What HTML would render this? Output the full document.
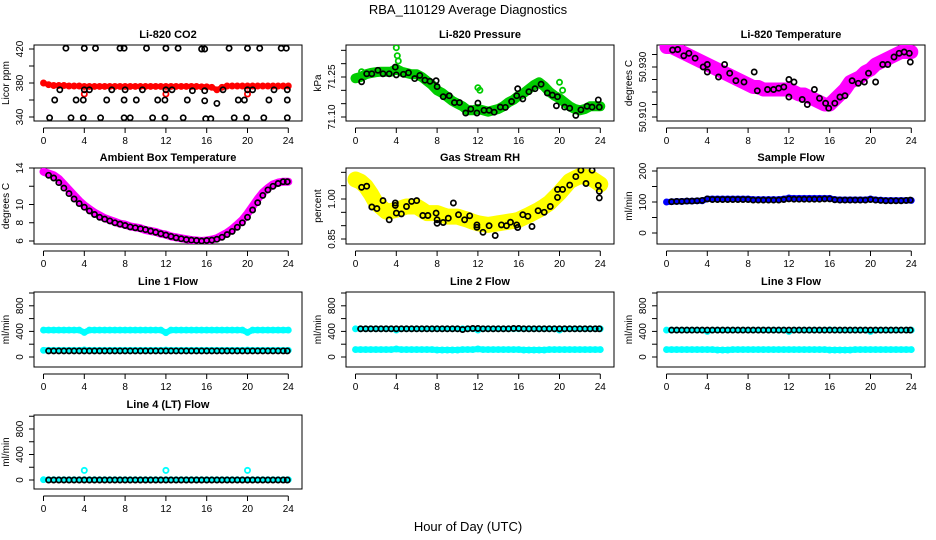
<!DOCTYPE html>
<html><head><meta charset="utf-8">
<style>
html,body{margin:0;padding:0;background:#fff;}
svg{display:block;font-family:"Liberation Sans",Arial,sans-serif;}
</style></head>
<body>
<svg id="chart" width="936" height="540" viewBox="0 0 936 540">
<text x="468" y="14" text-anchor="middle" font-size="13">RBA_110129  Average Diagnostics</text>
<text x="468" y="531" text-anchor="middle" font-size="13">Hour of Day (UTC)</text>
</svg>
<script>
const hours = [0,0.5,1,1.5,2,2.5,3,3.5,4,4.5,5,5.5,6,6.5,7,7.5,8,8.5,9,9.5,10,10.5,11,11.5,12,12.5,13,13.5,14,14.5,15,15.5,16,16.5,17,17.5,18,18.5,19,19.5,20,20.5,21,21.5,22,22.5,23,23.5,24];
const halfHours = [0.5,1,1.5,2,2.5,3,3.5,4,4.5,5,5.5,6,6.5,7,7.5,8,8.5,9,9.5,10,10.5,11,11.5,12,12.5,13,13.5,14,14.5,15,15.5,16,16.5,17,17.5,18,18.5,19,19.5,20,20.5,21,21.5,22,22.5,23,23.5,23.9];
const xTicks = [0,4,8,12,16,20,24];

// CO2
const co2Red = [380,378,377,377,377,376.5,376.5,376.5,376,376,376,376,376,376,376,376,376,376,376,376,376,376,376,376,376,376,376,376,376,376,376,375.5,375.5,375,372,375,376.5,376.5,376.5,376.5,376.5,376.5,376.5,376.5,376.5,376.5,376.5,376.5,376.5];
const co2RedOutHours = [4,12,20];
const co2RedOut = [367,367,367];
const co2BlackHours = [2.2,4,5.1,7.5,7.9,10.1,12,13.2,15.5,15.8,18.2,20,21.2,23.3,23.8, 1.6,4,4.5,6.7,8,9.7,12,12.6,14.6,15.8,17.6,20,20.5,22.6,23.9, 1.1,3.2,3.9,6.2,7.9,9.1,11.2,11.9,14.1,15.8,17,19.1,19.7,22.1,23.9, 0.6,2.7,3.9,5.6,7.9,8.5,10.7,11.9,13.7,15.9,16.4,18.7,19.9,21.6,23.9];
const co2Black = [421,421,421,421,421,421,421,421,420,420,421,421,421,421,421, 372,372,372,372,372,372,372,372,371,371,372,372,372,372,372, 360,360,360,360,360,360,360,360,360,359,356,360,360,360,360, 339,339,339,339,339,339,339,339,339,338,338,339,339,339,339];

// Pressure
const presGreen = [71.245,71.25,71.26,71.265,71.268,71.27,71.27,71.27,71.28,71.27,71.265,71.26,71.26,71.25,71.235,71.22,71.20,71.19,71.175,71.16,71.15,71.14,71.125,71.125,71.13,71.125,71.12,71.125,71.13,71.14,71.155,71.165,71.18,71.19,71.205,71.22,71.23,71.215,71.195,71.18,71.17,71.155,71.14,71.13,71.125,71.13,71.14,71.14,71.14];
const presOutHours = [4,4.1,4.2,0.6,12,12.2,20,20.3];
const presOut = [71.36,71.33,71.31,71.27,71.21,71.2,71.23,71.2];
const presBlackHours = [0.6,1.1,1.6,2.2,2.7,3.3,3.9,4,4.7,5.2,5.8,6.3,6.8,7.3,7.9,8,8.6,9.2,9.7,10.2,10.8,11.3,11.9,12,12.6,13.1,13.6,14.2,14.7,15.3,15.8,15.9,16.4,17,17.6,18.2,18.8,19.3,19.8,19.7,20.5,21,21.6,22.1,22.7,23.2,23.8,23.9];
const presBlack = [71.232,71.262,71.262,71.275,71.262,71.262,71.287,71.258,71.26,71.266,71.244,71.256,71.238,71.234,71.236,71.214,71.176,71.18,71.154,71.154,71.115,71.13,71.115,71.152,71.125,71.125,71.118,71.137,71.136,71.158,71.18,71.206,71.168,71.195,71.206,71.223,71.19,71.182,71.176,71.142,71.137,71.133,71.106,71.127,71.14,71.137,71.164,71.137];

// Li-820 temperature
const tempMag = [50.938,50.938,50.937,50.936,50.935,50.934,50.933,50.932,50.931,50.930,50.929,50.928,50.927,50.926,50.925,50.924,50.923,50.922,50.922,50.921,50.921,50.921,50.921,50.921,50.921,50.920,50.919,50.919,50.918,50.917,50.916,50.915,50.915,50.917,50.919,50.921,50.924,50.925,50.926,50.928,50.929,50.931,50.932,50.933,50.934,50.935,50.936,50.936,50.936];
const tempBlackHours = [0.6,1.1,1.7,2.2,2.8,3.6,4,4,5.1,5.7,6.2,6.8,7.6,8.6,8.9,9.9,10.5,11,11.5,12,12,12.5,13.3,13.8,14.5,15,15.6,15.9,16.5,17,17.5,18.2,18.8,19.4,19.8,20.5,21.2,21.7,22.3,22.8,23.3,23.8,23.9];
const tempBlack = [50.9368,50.937,50.9345,50.9355,50.9335,50.930,50.931,50.928,50.926,50.931,50.9275,50.9245,50.924,50.928,50.9205,50.921,50.921,50.9215,50.922,50.925,50.918,50.924,50.917,50.915,50.921,50.9175,50.9155,50.9135,50.9155,50.918,50.9185,50.9245,50.9235,50.924,50.9275,50.924,50.931,50.931,50.934,50.9355,50.936,50.9355,50.932];

// Ambient box temperature
const ambMag = [13.6,13.4,13.2,12.8,12.2,11.6,11.0,10.4,9.9,9.5,9.1,8.8,8.5,8.3,8.1,7.9,7.8,7.6,7.5,7.4,7.2,7.1,7.0,6.8,6.7,6.5,6.4,6.3,6.2,6.1,6.05,6.0,6.05,6.15,6.3,6.6,6.9,7.3,7.8,8.3,9.0,9.8,10.6,11.3,11.8,12.2,12.4,12.5,12.5];
const ambBlack = [13.2,12.9,12.4,11.8,11.2,10.6,10.1,9.7,9.3,8.9,8.6,8.4,8.2,8.0,7.85,7.7,7.55,7.45,7.35,7.25,7.1,6.95,6.8,6.65,6.5,6.35,6.25,6.15,6.1,6.05,6.0,6.05,6.1,6.2,6.4,6.7,7.05,7.5,8.0,8.6,9.4,10.2,11.0,11.6,12.0,12.3,12.5,12.5];

// Gas stream RH
const rhYellow = [1.073,1.065,1.048,1.02,0.986,0.97,0.953,0.955,0.96,0.966,0.972,0.972,0.972,0.96,0.947,0.947,0.947,0.94,0.934,0.934,0.934,0.928,0.922,0.915,0.909,0.906,0.903,0.906,0.909,0.912,0.915,0.918,0.922,0.931,0.94,0.95,0.96,0.972,0.985,1.004,1.023,1.045,1.067,1.077,1.086,1.083,1.08,1.068,1.055];
const rhBlackHours = [0.6,1.1,1.6,2.1,2.7,3.3,3.9,3.9,4,4.5,5,5.5,6,6.6,7.1,7.9,8,8,8.6,9.1,9.6,10.1,10.7,11.2,11.9,11.9,12.5,13.1,13.7,14.3,14.8,15.2,15.8,15.9,16.4,16.9,17.3,17.9,18.5,19.1,19.8,19.8,20.3,21,21.6,22.1,22.6,23.2,23.8,23.9,23.9];
const rhBlack = [1.044,1.048,0.970,0.964,0.994,0.922,0.985,0.976,0.947,0.944,0.972,0.991,0.994,0.938,0.938,0.947,0.922,0.909,0.912,0.928,0.985,0.941,0.922,0.937,0.903,0.894,0.875,0.900,0.863,0.903,0.900,0.913,0.903,0.893,0.941,0.935,0.897,0.956,0.950,0.972,1.036,1.006,1.036,1.052,1.084,1.108,1.058,1.108,1.051,1.029,1.004];

// Sample flow
const sampleBlue = [100,101,102,102,103,103,104,104,110,110,110,110,110,110,110,110,110,108,108,108,108,108,108,110,113,112,112,112,112,112,112,112,112,108,107,107,107,107,107,107,110,107,106,105,105,105,105,105,105];
const sampleBlack = [101,102,102,103,103,104,105,110,108,108,108,108,108,108,108,108,106,106,106,106,106,106,108,110,109,109,109,109,109,109,110,110,107,106,106,106,106,106,106,108,106,105,104,104,104,104,105,106];

// Line flows
const line1High = [420,420,420,420,420,420,420,420,385,420,420,420,420,420,420,420,420,420,420,420,420,420,420,420,380,420,420,420,420,420,420,420,420,420,420,420,420,420,420,420,385,420,420,420,420,420,420,420,420];
const line1Low = [105,105,105,105,105,105,105,105,110,105,105,105,105,105,105,105,105,105,105,105,105,105,105,105,108,105,105,105,105,105,105,105,105,105,105,105,105,105,105,105,108,105,105,105,105,105,105,105,105];
const line1Black = [95,95,95,95,95,95,95,95,95,95,95,95,95,95,95,95,95,95,95,95,95,95,95,95,95,95,95,95,95,95,95,95,95,95,95,95,95,95,95,95,95,95,95,95,95,95,95,95];
const line2High = [440,440,440,440,440,440,440,440,420,440,440,440,440,440,440,440,440,440,440,440,440,440,440,440,420,440,440,440,440,440,440,440,440,440,440,440,440,440,440,440,420,440,440,440,440,440,440,440,440];
const line2Low = [115,115,115,115,115,115,115,115,125,115,115,115,115,115,115,115,110,110,110,110,110,115,115,115,125,115,115,115,115,115,115,115,115,110,110,110,110,110,115,115,115,115,115,115,115,115,115,115,115];
const line2Black = [440,440,440,440,440,440,440,440,440,440,440,440,440,440,440,440,440,440,440,440,430,440,445,445,440,440,440,440,440,440,445,445,440,440,440,440,440,440,440,440,440,440,440,440,440,440,440,440];
const line3High = [420,420,420,420,420,420,420,420,400,420,420,420,420,420,420,420,420,420,420,420,420,420,420,420,400,420,420,420,420,420,420,420,425,420,420,420,420,420,420,420,400,420,420,420,420,420,420,420,420];
const line3Low = [115,115,115,115,115,115,115,115,115,115,110,110,110,115,115,115,115,115,115,115,115,115,115,115,115,115,115,115,115,115,115,115,110,110,110,110,110,115,115,115,115,115,115,115,115,115,115,115,115];
const line3Black = [420,420,420,420,420,420,420,420,420,420,420,420,420,420,420,420,420,420,420,420,420,420,420,420,420,420,420,420,420,420,420,420,420,420,420,420,420,420,420,420,420,420,420,420,420,420,420,420];
const line4Cyan = [5,5,5,5,5,5,5,5,5,5,5,5,5,5,5,5,5,5,5,5,5,5,5,5,5,5,5,5,5,5,5,5,5,5,5,5,5,5,5,5,5,5,5,5,5,5,5,5,5];
const line4OutHours = [4,12,20];
const line4Out = [150,150,150];
const line4Black = [0,0,0,0,0,0,0,0,0,0,0,0,0,0,0,0,0,0,0,0,0,0,0,0,0,0,0,0,0,0,0,0,0,0,0,0,0,0,0,0,0,0,0,0,0,0,0,0];

const flowTicks = [0,200,400,600,800,1000];
const flowLabels = [0,400,800];

const NS = 'http://www.w3.org/2000/svg';
const svg = document.getElementById('chart');
function mk(tag, attrs, parent) {
  const e = document.createElementNS(NS, tag);
  for (const k in attrs) e.setAttribute(k, attrs[k]);
  (parent || svg).appendChild(e);
  return e;
}

function panel(cfg) {
  const g = mk('g', {});
  
  
  const L = cfg.left, T = cfg.top, W = 268, H = cfg.h || 76;
  const xs = h => L + 9.5 + h * 10.2;
  const ys = v => cfg.p0 + (v - cfg.v0) * (cfg.p1 - cfg.p0) / (cfg.v1 - cfg.v0);
  const title = mk('text', {x: L + W / 2, y: T - 7, 'text-anchor': 'middle', 'font-size': 11, 'font-weight': 'bold'}, g);
  title.textContent = cfg.title;
  
  
  const box = mk('rect', {x: L, y: T, width: W, height: H, fill: 'none', stroke: '#000', 'stroke-width': 1}, g);
  
  
  const xa = mk('g', {}, g);
  
  
  const ay = T + H + 7;
  mk('line', {x1: xs(xTicks[0]), x2: xs(xTicks[xTicks.length - 1]), y1: ay, y2: ay, stroke: '#000'}, xa);
  xTicks.forEach(t => {
    mk('line', {x1: xs(t), x2: xs(t), y1: ay, y2: ay + 5, stroke: '#000'}, xa);
    const tx = mk('text', {x: xs(t), y: ay + 16, 'text-anchor': 'middle', 'font-size': 10}, xa);
    tx.textContent = t;
  });
  const ya = mk('g', {}, g);
  
  
  const tk = cfg.ticks;
  mk('line', {x1: L, x2: L, y1: ys(tk[0]), y2: ys(tk[tk.length - 1]), stroke: '#000'}, ya);
  tk.forEach(t => mk('line', {x1: L - 5, x2: L, y1: ys(t), y2: ys(t), stroke: '#000'}, ya));
  cfg.labels.forEach((t, i) => {
    const yy = ys(t), xx = L - 11;
    const tx = mk('text', {x: xx, y: yy, 'text-anchor': 'middle', 'font-size': 10, transform: `rotate(-90 ${xx} ${yy})`}, ya);
    tx.textContent = cfg.labelText ? cfg.labelText[i] : t;
  });
  const yt = mk('text', {x: L - 25, y: T + H / 2, 'text-anchor': 'middle', 'font-size': 10, transform: `rotate(-90 ${L - 25} ${T + H / 2})`}, g);
  yt.textContent = cfg.ytitle;
  
  
  const clip = 'clip-' + cfg.name;
  const cp = mk('clipPath', {id: clip}, g);
  mk('rect', {x: L, y: T, width: W, height: H}, cp);
  const sg = mk('g', {'clip-path': `url(#${clip})`}, g);
  cfg.series.forEach(s => {
    const sgrp = mk('g', {}, sg);
    
    
    if (s.band) {
      const pts = s.x.map((h, i) => xs(h).toFixed(1) + ',' + ys(s.y[i]).toFixed(1)).join(' ');
      const pl = mk('polyline', {points: pts, fill: 'none', stroke: s.color, 'stroke-width': s.band, 'stroke-linejoin': 'round', 'stroke-linecap': 'round'}, sgrp);
      
      
    }
    s.x.forEach((h, i) => {
      const c = mk('circle', {cx: xs(h).toFixed(1), cy: ys(s.y[i]).toFixed(1), r: s.r || 2.6, fill: 'none', stroke: s.color, 'stroke-width': s.sw || 1.7}, sgrp);
      
      
    });
  });
}

const C1 = 34, C2 = 346, C3 = 657;
const R1 = 45, R2 = 168, R3 = 292, R4 = 415;
const BLK = '#000', CY = '#00ffff';

panel({name: 'co2', title: 'Li-820 CO2', left: C1, top: R1, v0: 340, p0: 117, v1: 420, p1: 49,
  ticks: [340,360,380,400,420], labels: [340,380,420], ytitle: 'Licor ppm',
  series: [
    {name: 'licor', x: hours, y: co2Red, color: '#ff0000', band: 5},
    {name: 'licor-outliers', x: co2RedOutHours, y: co2RedOut, color: '#ff0000', sw: 1.8},
    {name: 'average', x: co2BlackHours, y: co2Black, color: BLK}
  ]});
panel({name: 'pressure', title: 'Li-820 Pressure', left: C2, top: R1, v0: 71.10, p0: 117, v1: 71.25, p1: 77,
  ticks: [71.10,71.15,71.20,71.25,71.30,71.35], labels: [71.10,71.25], labelText: ['71.10','71.25'], ytitle: 'kPa',
  series: [
    {name: 'pressure', x: hours, y: presGreen, color: '#00cc00', band: 10},
    {name: 'pressure-outliers', x: presOutHours, y: presOut, color: '#00cc00', sw: 1.8},
    {name: 'average', x: presBlackHours, y: presBlack, color: BLK}
  ]});
panel({name: 'li820-temp', title: 'Li-820 Temperature', left: C3, top: R1, v0: 50.910, p0: 117, v1: 50.930, p1: 67,
  ticks: [50.910,50.915,50.920,50.925,50.930,50.935], labels: [50.910,50.930], labelText: ['50.910','50.930'], ytitle: 'degrees C',
  series: [
    {name: 'temperature', x: hours, y: tempMag, color: '#ff00ff', band: 14},
    {name: 'average', x: tempBlackHours, y: tempBlack, color: BLK}
  ]});
panel({name: 'ambient-temp', title: 'Ambient Box Temperature', left: C1, top: R2, v0: 6, p0: 241, v1: 14, p1: 168,
  ticks: [6,8,10,12,14], labels: [6,8,10,14], ytitle: 'degrees C',
  series: [
    {name: 'temperature', x: hours, y: ambMag, color: '#ff00ff', band: 8},
    {name: 'average', x: halfHours, y: ambBlack, color: BLK}
  ]});
panel({name: 'gas-rh', title: 'Gas Stream RH', left: C2, top: R2, v0: 0.85, p0: 239, v1: 1.00, p1: 199,
  ticks: [0.85,0.90,0.95,1.00,1.05,1.10], labels: [0.85,1.00], labelText: ['0.85','1.00'], ytitle: 'percent',
  series: [
    {name: 'rh', x: hours, y: rhYellow, color: '#ffff00', band: 16},
    {name: 'average', x: rhBlackHours, y: rhBlack, color: BLK}
  ]});
panel({name: 'sample-flow', title: 'Sample Flow', left: C3, top: R2, v0: 0, p0: 233, v1: 200, p1: 171,
  ticks: [0,50,100,150,200], labels: [0,100,200], ytitle: 'ml/min',
  series: [
    {name: 'flow', x: hours, y: sampleBlue, color: '#0000ff', band: 6},
    {name: 'average', x: halfHours, y: sampleBlack, color: BLK}
  ]});
panel({name: 'line1-flow', title: 'Line 1 Flow', left: C1, top: R3, h: 75, v0: 0, p0: 357, v1: 1000, p1: 293,
  ticks: flowTicks, labels: flowLabels, ytitle: 'ml/min',
  series: [
    {name: 'high', x: hours, y: line1High, color: CY, band: 6},
    {name: 'low', x: hours, y: line1Low, color: CY, band: 6},
    {name: 'average', x: halfHours, y: line1Black, color: BLK}
  ]});
panel({name: 'line2-flow', title: 'Line 2 Flow', left: C2, top: R3, h: 75, v0: 0, p0: 357, v1: 1000, p1: 293,
  ticks: flowTicks, labels: flowLabels, ytitle: 'ml/min',
  series: [
    {name: 'high', x: hours, y: line2High, color: CY, band: 5},
    {name: 'low', x: hours, y: line2Low, color: CY, band: 6},
    {name: 'average', x: halfHours, y: line2Black, color: BLK}
  ]});
panel({name: 'line3-flow', title: 'Line 3 Flow', left: C3, top: R3, h: 75, v0: 0, p0: 357, v1: 1000, p1: 293,
  ticks: flowTicks, labels: flowLabels, ytitle: 'ml/min',
  series: [
    {name: 'high', x: hours, y: line3High, color: CY, band: 5},
    {name: 'low', x: hours, y: line3Low, color: CY, band: 6},
    {name: 'average', x: halfHours, y: line3Black, color: BLK}
  ]});
panel({name: 'line4-flow', title: 'Line 4 (LT) Flow', left: C1, top: R4, h: 74, v0: 0, p0: 480, v1: 800, p1: 429,
  ticks: flowTicks, labels: flowLabels, ytitle: 'ml/min',
  series: [
    {name: 'flow', x: hours, y: line4Cyan, color: CY, band: 5},
    {name: 'outliers', x: line4OutHours, y: line4Out, color: CY, sw: 1.8},
    {name: 'average', x: halfHours, y: line4Black, color: BLK}
  ]});
</script>
</body></html>
